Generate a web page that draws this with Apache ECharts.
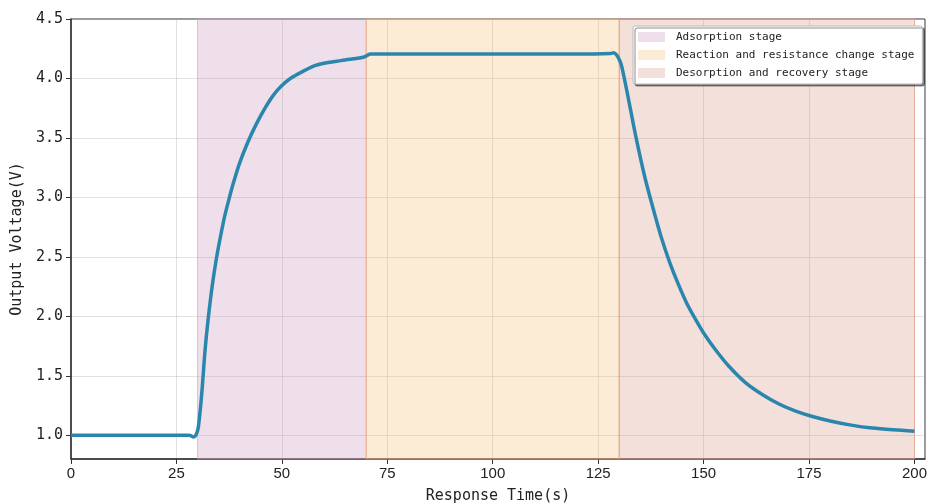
<!DOCTYPE html>
<html>
<head>
<meta charset="utf-8">
<script src="https://cdn.jsdelivr.net/npm/echarts@6/dist/echarts.min.js"></script>
<style>
  html, body { margin: 0; padding: 0; background: #fff; }
  #main { width: 928px; height: 504px; }
</style>
</head>
<body>
<div id="main"></div>
<script>
// response curve
var times = [0, 28, 28.5, 29, 29.6, 30.2, 31.0, 31.8, 32.6, 33.5, 34.5, 35.5, 36.5, 37.5, 38.5, 40, 42, 44, 46, 48, 50, 52, 55, 58, 61, 64, 67, 69.5, 70.3, 71, 80, 100, 120, 128, 128.7, 129.3, 130, 130.6, 132, 134, 136, 138, 140, 142, 144, 146, 148, 150, 153, 156, 160, 164, 168, 172, 176, 180, 185, 190, 195, 200];
var volts = [1.0, 1.0, 0.995, 0.985, 1.0, 1.07, 1.35, 1.72, 2.0, 2.26, 2.49, 2.68, 2.85, 2.99, 3.12, 3.29, 3.47, 3.62, 3.75, 3.86, 3.94, 4.0, 4.06, 4.11, 4.135, 4.15, 4.165, 4.18, 4.195, 4.205, 4.205, 4.205, 4.205, 4.21, 4.216, 4.2, 4.16, 4.10, 3.86, 3.50, 3.18, 2.91, 2.66, 2.45, 2.27, 2.11, 1.98, 1.86, 1.71, 1.58, 1.44, 1.34, 1.26, 1.20, 1.155, 1.12, 1.085, 1.06, 1.045, 1.034];

var stageNames = ['Adsorption stage', 'Reaction and resistance change stage', 'Desorption and recovery stage'];
var stageStart = [30, 70, 130];
var stageEnd = [70, 130, 200];
var stageFill = ['rgba(198,148,185,0.3)', 'rgba(245,188,115,0.3)', 'rgba(218,152,135,0.3)'];
var stageEdge = ['rgba(205,160,195,0.6)', 'rgba(240,170,120,0.8)', 'rgba(230,160,140,0.8)'];

var chart = echarts.init(document.getElementById('main'));

var series = [];
for (var i = 0; i < stageNames.length; i++) {
    series.push({
        name: stageNames[i],
        type: 'line',
        data: [],
        color: stageFill[i],
        silent: true,
        markArea: {
            silent: true,
            itemStyle: { color: stageFill[i], borderColor: stageEdge[i], borderWidth: 1 },
            data: [[{ xAxis: stageStart[i] }, { xAxis: stageEnd[i] }]]
        }
    });
}
var curve = [];
for (var j = 0; j < times.length; j++) curve.push([times[j], volts[j]]);
series.push({
    name: 'Output',
    type: 'line',
    data: curve,
    smooth: 0.3,
    showSymbol: false,
    z: 5,
    lineStyle: { color: '#2a86ad', width: 3.5 },
    itemStyle: { color: '#2a86ad' }
});

var option = {
    animation: false,
    backgroundColor: '#fff',
    grid: {
        left: 71, top: 19, right: 3, bottom: 45,
        outerBoundsMode: 'none',
        show: true, borderColor: '#333', borderWidth: 1
    },
    legend: {
        data: stageNames,
        orient: 'vertical',
        left: 633, top: 26,
        padding: [4, 8, 4, 5],
        itemGap: 4,
        itemWidth: 27, itemHeight: 10,
        icon: 'rect',
        backgroundColor: '#fff',
        borderColor: '#bbb', borderWidth: 1, borderRadius: 2,
        shadowColor: 'rgba(0,0,0,0.45)', shadowBlur: 0, shadowOffsetX: 2, shadowOffsetY: 2,
        textStyle: { fontFamily: 'DejaVu Sans Mono', fontSize: 11, color: '#222', lineHeight: 14, padding: [0, 0, 0, 6] }
    },
    xAxis: {
        type: 'value',
        min: 0, max: 202.5, interval: 25,
        name: 'Response Time(s)',
        nameLocation: 'middle',
        nameGap: 30,
        nameTextStyle: { fontFamily: 'DejaVu Sans Mono', fontSize: 15, color: '#222' },
        axisLine: { lineStyle: { color: '#333', width: 1.5 } },
        axisTick: { show: true, length: 5, lineStyle: { color: '#333' } },
        axisLabel: { showMaxLabel: false, fontFamily: 'Liberation Sans', fontSize: 15, color: '#222', margin: 7 },
        splitLine: { show: true, lineStyle: { color: 'rgba(170,170,170,0.35)', width: 1 } }
    },
    yAxis: {
        type: 'value',
        min: 0.8, max: 4.5,
        minInterval: 0.5, maxInterval: 0.5,
        name: 'Output Voltage(V)',
        nameLocation: 'middle',
        nameGap: 44,
        nameTextStyle: { fontFamily: 'DejaVu Sans Mono', fontSize: 15, color: '#222' },
        axisLine: { show: true, lineStyle: { color: '#333', width: 1.5 } },
        axisTick: { show: true, length: 5, lineStyle: { color: '#333' } },
        axisLabel: {
            showMinLabel: false,
            fontFamily: 'DejaVu Sans Mono', fontSize: 15, color: '#222', margin: 8,
            formatter: function (v) { return v.toFixed(1); }
        },
        splitLine: { show: true, lineStyle: { color: 'rgba(170,170,170,0.35)', width: 1 } }
    },
    series: series
};

chart.setOption(option);
</script>
</body>
</html>
